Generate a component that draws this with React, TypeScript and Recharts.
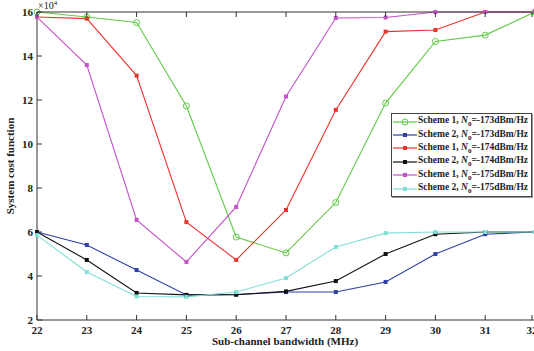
import { LineChart, Line, XAxis, YAxis, Legend } from 'recharts'

const bandwidth = [22, 23, 24, 25, 26, 27, 28, 29, 30, 31, 32]
const s1n173 = [16.0, 15.77, 15.52, 11.73, 5.77, 5.05, 7.34, 11.86, 14.66, 14.95, 16.0]
const s2n173 = [6.0, 5.41, 4.27, 3.14, 3.16, 3.27, 3.27, 3.73, 5.0, 5.9, 6.0]
const s1n174 = [15.77, 15.7, 13.11, 6.45, 4.73, 7.0, 11.55, 15.11, 15.18, 16.0, 16.0]
const s2n174 = [6.0, 4.73, 3.23, 3.14, 3.15, 3.3, 3.77, 5.0, 5.9, 6.0, 6.0]
const s1n175 = [15.77, 13.59, 6.55, 4.64, 7.14, 12.16, 15.73, 15.75, 16.0, 16.0, 16.0]
const s2n175 = [5.86, 4.18, 3.07, 3.05, 3.27, 3.91, 5.32, 5.95, 6.0, 6.0, 6.0]

const xTicks = [22, 23, 24, 25, 26, 27, 28, 29, 30, 31, 32]
const yTicks = [2, 4, 6, 8, 10, 12, 14, 16]

const series = [
  { key: 's1n173', scheme: 'Scheme 1', n0: '-173', color: '#5fcb45', open: true },
  { key: 's2n173', scheme: 'Scheme 2', n0: '-173', color: '#2f40a6', open: false },
  { key: 's1n174', scheme: 'Scheme 1', n0: '-174', color: '#e8342b', open: false },
  { key: 's2n174', scheme: 'Scheme 2', n0: '-174', color: '#111111', open: false },
  { key: 's1n175', scheme: 'Scheme 1', n0: '-175', color: '#c452c8', open: false },
  { key: 's2n175', scheme: 'Scheme 2', n0: '-175', color: '#80e0d6', open: false },
]

const data = bandwidth.map((b, i) => ({
  b,
  s1n173: s1n173[i],
  s2n173: s2n173[i],
  s1n174: s1n174[i],
  s2n174: s2n174[i],
  s1n175: s1n175[i],
  s2n175: s2n175[i],
}))

const font = '"Liberation Serif", "Times New Roman", serif'
const axisColor = '#333'

// MATLAB-style ticks point inward, so the tick marks are drawn by hand
const BottomTick = (p: any) => (
  <g>
    <line x1={p.x} x2={p.x} y1={320} y2={315} stroke={axisColor} />
    <text x={p.x} y={334} textAnchor="middle" fontFamily={font} fontWeight="bold" fontSize={11} fill="#222">
      {p.payload.value}
    </text>
  </g>
)
const TopTick = (p: any) => <line x1={p.x} x2={p.x} y1={12} y2={17} stroke={axisColor} />
const LeftTick = (p: any) => (
  <g>
    <line x1={37} x2={42} y1={p.y} y2={p.y} stroke={axisColor} />
    <text x={33} y={p.y + 4} textAnchor="end" fontFamily={font} fontWeight="bold" fontSize={11} fill="#222">
      {p.payload.value}
    </text>
  </g>
)
const RightTick = (p: any) => <line x1={535} x2={530} y1={p.y} y2={p.y} stroke={axisColor} />

const Marker = ({ cx, cy, color, open }: any) =>
  open ? (
    <circle cx={cx} cy={cy} r={3} fill="none" stroke={color} strokeWidth={1} />
  ) : (
    <rect x={cx - 2} y={cy - 2} width={4} height={4} fill={color} />
  )

const LegendBox = () => (
  <div
    style={{
      border: '1px solid #444',
      boxShadow: '1px 1px 0 #999',
      background: '#fff',
      padding: '1px 3px 1px 1px',
      fontFamily: font,
      fontWeight: 'bold',
      fontSize: 9.5,
      color: '#222',
    }}
  >
    {series.map((s) => (
      <div key={s.key} style={{ display: 'flex', alignItems: 'center', height: 13.4, whiteSpace: 'nowrap' }}>
        <svg width={24} height={10} style={{ marginRight: 1 }}>
          <line x1={0} x2={24} y1={5} y2={5} stroke={s.color} strokeWidth={1.2} />
          <Marker cx={12} cy={5} color={s.color} open={s.open} />
        </svg>
        <span>
          {s.scheme}, <i>N</i>
          <sub style={{ fontSize: 7 }}>0</sub>={s.n0}dBm/Hz
        </span>
      </div>
    ))}
  </div>
)

export default function App() {
  return (
    <div style={{ position: 'fixed', left: 0, top: 0, width: 534, height: 351, overflow: 'hidden', background: '#fff' }}>
      <LineChart width={540} height={351} data={data} margin={{ top: 0, right: 0, bottom: 0, left: 0 }}>
        <XAxis
          dataKey="b"
          type="number"
          domain={[22, 32]}
          ticks={xTicks}
          height={31}
          tickLine={false}
          tick={BottomTick}
          stroke={axisColor}
          label={{
            content: () => (
              <text x={285} y={345} textAnchor="middle" fontFamily={font} fontWeight="bold" fontSize={11} fill="#222">
                Sub-channel bandwidth (MHz)
              </text>
            ),
          }}
        />
        <XAxis
          xAxisId="top"
          orientation="top"
          dataKey="b"
          type="number"
          domain={[22, 32]}
          ticks={xTicks}
          height={12}
          tickLine={false}
          tick={TopTick}
          stroke={axisColor}
          label={{
            content: () => (
              <text x={38} y={9} fontFamily={font} fontSize={10} fill="#222">
                ×10<tspan dy={-4} fontSize={7}>4</tspan>
              </text>
            ),
          }}
        />
        <YAxis
          type="number"
          domain={[2, 16]}
          ticks={yTicks}
          width={37}
          tickLine={false}
          tick={LeftTick}
          stroke={axisColor}
          label={{
            content: () => (
              <text
                x={14}
                y={166}
                textAnchor="middle"
                transform="rotate(-90 14 166)"
                fontFamily={font}
                fontWeight="bold"
                fontSize={11}
                fill="#222"
              >
                System cost function
              </text>
            ),
          }}
        />
        <YAxis
          yAxisId="right"
          orientation="right"
          type="number"
          domain={[2, 16]}
          ticks={yTicks}
          width={5}
          tickLine={false}
          tick={RightTick}
          stroke={axisColor}
        />
        <Legend
          layout="horizontal"
          align="center"
          verticalAlign="middle"
          content={LegendBox}
          wrapperStyle={{ position: 'absolute', left: 391, top: 113, width: 'auto' }}
        />
        {series.map((s) => (
          <Line
            key={s.key}
            dataKey={s.key}
            stroke={s.color}
            strokeWidth={1.1}
            isAnimationActive={false}
            dot={(p: any) => <Marker key={p.index} cx={p.cx} cy={p.cy} color={s.color} open={s.open} />}
            activeDot={false}
          />
        ))}
      </LineChart>
    </div>
  )
}
